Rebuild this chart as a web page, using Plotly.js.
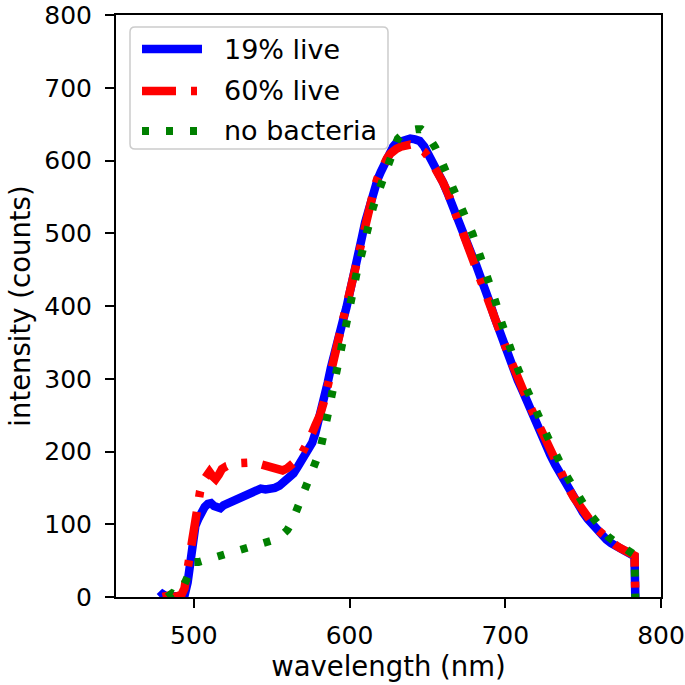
<!DOCTYPE html>
<html><head><meta charset="utf-8">
<script src="https://cdn.plot.ly/plotly-3.0.1.min.js"></script>
<style>html,body{margin:0;padding:0;background:#fff}#chart{width:685px;height:685px}</style>
</head><body><div id="chart"></div>
<script>
const seriesNames = ["19% live", "60% live", "no bacteria"];

const wl19 = [478,480,483,487,491,494,496,497.5,499,501,503,505,507,509,511,513,515,517,519,522,525,528,531,534,537,540,543,546,549,552,555,558,561,564,567,570,573,576,578,580,582,584,586,588,590,592,594,596,598,600,602,604,606,608,610,612,614,616,618,620,622,624,626,628,630,633,636,639,642,645,648,651,654,657,660,663,666,669,672,675,678,681,684,687,690,693,696,699,702,705,708,711,714,717,720,723,726,729,732,735,738,741,744,747,750,753,756,759,762,765,768,771,774,777,780,782,783,783.5];
const int19 = [0,4,0,0,0,2,20,50,80,98,108,117,124,128,129,125,122,122,126,129,133,137,140,143,146,148,149,148,148,150,153,158,163,170,180,190,200,212,225,240,255,275,295,315,335,350,365,382,398,415,438,458,478,495,515,532,548,562,574,584,594,602,612,619,624,627,629,630,629,627,619,608,596,584,570,555,537,522,506,490,473,458,442,425,405,385,366,348,330,313,298,284,268,254,240,226,210,195,182,170,158,146,135,125,116,107,99,91,85,79,74,70,66,63,60,58,56,0];

const wl60 = [480,484,488,492,494,496,498,500,502,504,506,508,510,512,514,516,518,521,524,527,530,533,536,539,542,545,548,551,554,557,560,563,566,569,572,575,578,581,584,586,588,590,592,594,596,598,600,602,604,606,608,610,612,614,616,618,620,622,624,626,628,630,633,636,639,642,645,648,651,654,657,660,663,666,669,672,675,678,681,684,687,690,693,696,699,702,705,708,711,714,717,720,723,726,729,732,735,738,741,744,747,750,753,756,759,762,765,768,771,774,777,780,782,783,783.5];
const int60 = [0,2,0,3,12,40,75,105,128,145,160,168,172,166,162,168,176,180,183,184,184,185,186,185,183,181,179,176,174,174,177,182,188,196,206,220,236,250,272,292,314,333,350,366,383,400,418,440,460,480,498,517,533,549,563,576,587,596,603,609,613,616,619,621,622,621,618,612,604,594,583,570,556,539,524,508,492,476,460,444,427,408,388,369,351,333,316,301,287,271,257,243,229,213,198,185,172,160,148,137,127,118,109,101,93,87,81,76,71,67,64,61,59,57,0];

const wlNo = [483,486,488,490,492,494,496,498,500,503,506,509,512,515,518,521,524,527,530,533,536,539,542,545,548,551,554,557,560,563,566,569,572,575,578,581,584,587,589,591,593,595,597,599,601,603,605,607,609,611,613,615,617,619,621,623,625,627,629,631,634,637,640,643,646,649,652,655,658,661,664,667,670,673,676,679,682,685,688,691,694,697,700,703,706,709,712,715,718,721,724,727,730,733,736,739,742,745,748,751,754,757,760,763,766,769,772,775,778,781,783,783.5];
const intNo = [0,5,3,8,10,18,28,40,48,48,50,52,53,56,58,59,61,63,65,66,69,71,72,74,76,78,80,86,92,103,119,135,151,165,182,201,230,262,283,305,330,348,370,392,415,433,450,465,485,505,522,535,548,560,570,585,598,612,622,630,636,640,642,643,643,638,630,618,604,590,574,558,544,530,514,499,481,463,445,425,404,381,360,343,325,309,293,278,265,251,236,221,206,193,181,168,156,145,135,125,115,106,98,90,83,78,73,69,65,61,58,0];

const xTicks = [500,600,700,800];
const yTicks = [0,100,200,300,400,500,600,700,800];

const colors = ["#0000ff", "#ff0000", "#008000"];
const dashes = ["solid", "34px,15px,6px,15px", "7px,17px"];
const widths = [8.5, 8.5, 8];

const fam = "DejaVu Sans, sans-serif";
const tickFont = {family: fam, size: 25, color: "#000"};
const titleFont = {family: fam, size: 27.5, color: "#000"};
const legendFont = {family: fam, size: 27, color: "#000"};

const xs = [wl19, wl60, wlNo];
const ys = [int19, int60, intNo];
const traces = seriesNames.map((n, i) => ({
  x: xs[i], y: ys[i], name: n, mode: "lines", showlegend: false,
  line: {color: colors[i], width: widths[i], dash: dashes[i]}
}));

// plot area in pixels (for placing the legend box in paper units)
const M = {l: 116, r: 24, t: 15, b: 88};
const W = 685, H = 685;
const pw = W - M.l - M.r, ph = H - M.t - M.b;
const px = v => (v - M.l) / pw;
const py = v => (H - M.b - v) / ph;

// legend box (rounded)
const bx0 = 130, bx1 = 388, by0 = 27, by1 = 149, r = 5;
const boxPath = [
  "M", px(bx0 + r), py(by0), "L", px(bx1 - r), py(by0),
  "Q", px(bx1), py(by0), px(bx1), py(by0 + r),
  "L", px(bx1), py(by1 - r),
  "Q", px(bx1), py(by1), px(bx1 - r), py(by1),
  "L", px(bx0 + r), py(by1),
  "Q", px(bx0), py(by1), px(bx0), py(by1 - r),
  "L", px(bx0), py(by0 + r),
  "Q", px(bx0), py(by0), px(bx0 + r), py(by0), "Z"
].map(v => typeof v === "number" ? v.toFixed(5) : v).join(" ").replace(/ ([\d.-]+) ([\d.-]+)/g, " $1,$2");

const shapes = [{
  type: "path", xref: "paper", yref: "paper", path: boxPath,
  fillcolor: "rgba(255,255,255,0.8)", line: {color: "#cccccc", width: 1.5}, layer: "above"
}];
const annotations = [];
const rowY = [49, 91, 131];
seriesNames.forEach((n, i) => {
  shapes.push({
    type: "line", xref: "paper", yref: "paper", layer: "above",
    x0: px(142), x1: px(202), y0: py(rowY[i]), y1: py(rowY[i]),
    line: {color: colors[i], width: widths[i], dash: dashes[i]}
  });
  annotations.push({
    xref: "paper", yref: "paper", x: px(222), y: py(rowY[i]),
    xanchor: "left", yanchor: "middle", text: n, showarrow: false,
    font: legendFont
  });
});

const axisCommon = {
  showgrid: false, zeroline: false, showline: true, linecolor: "#000", linewidth: 2,
  mirror: true, ticks: "outside", ticklen: 9, tickwidth: 2, tickcolor: "#000",
  tickfont: tickFont, ticklabeloverflow: "allow"
};

const layout = {
  width: W, height: H,
  margin: M,
  paper_bgcolor: "#fff", plot_bgcolor: "#fff",
  font: tickFont,
  showlegend: false,
  xaxis: Object.assign({}, axisCommon, {
    range: [450, 800], tickvals: xTicks, ticktext: xTicks.map(String),
    ticklabelstandoff: 6,
    title: {text: "wavelength (nm)", font: titleFont, standoff: 4}
  }),
  yaxis: Object.assign({}, axisCommon, {
    range: [0, 800], tickvals: yTicks, ticktext: yTicks.map(String),
    ticklabelstandoff: 8,
    title: {text: "intensity (counts)", font: titleFont, standoff: 6}
  }),
  shapes: shapes,
  annotations: annotations
};

Plotly.newPlot("chart", traces, layout, {displayModeBar: false, staticPlot: true});
</script>
</body></html>
